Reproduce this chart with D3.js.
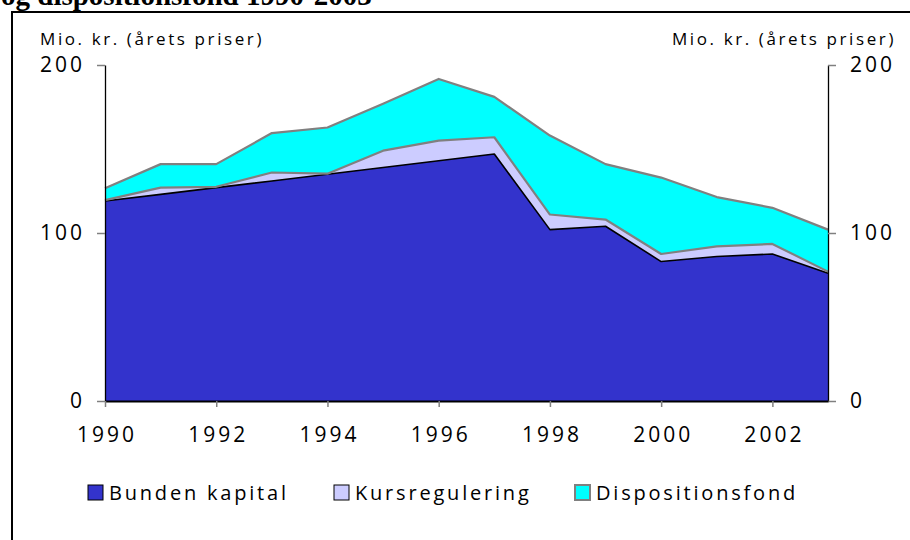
<!DOCTYPE html>
<html>
<head>
<meta charset="utf-8">
<script src="https://cdn.jsdelivr.net/npm/d3@7"></script>
<style>
  body { margin: 0; background: #fff; }
  svg { display: block; }
  text { font-family: "Open Sans", sans-serif; fill: #000; }
</style>
</head>
<body>
<div id="chart"></div>
<script>
// stacked area: bunden kapital + kursregulering + dispositionsfond, mio. kr.
const years = [1990, 1991, 1992, 1993, 1994, 1995, 1996, 1997, 1998, 1999, 2000, 2001, 2002, 2003]
const bunden = [119, 123, 127, 131, 135, 139, 143, 147, 102, 104, 83, 86, 87.5, 76]
const kurs   = [0.6, 4, 0.5, 5, 0.3, 10, 12, 10, 9, 4, 4.5, 6, 6, 1]
const disp   = [7, 14, 13.5, 23.5, 27.5, 28, 36.7, 24, 47, 33, 45.5, 29.4, 21.5, 25]
const yTicks = [0, 100, 200]
const xTicks = [1990, 1992, 1994, 1996, 1998, 2000, 2002]
const seriesNames = ["Bunden kapital", "Kursregulering", "Dispositionsfond"]

const W = 910, H = 540
const margin = { top: 65, right: 82, bottom: 139, left: 105 }
const plotW = W - margin.left - margin.right
const plotH = H - margin.top - margin.bottom

const fills   = ["#3333cc", "#ccccff", "#00ffff"]
const strokes = ["#000000", "#808080", "#808080"]

const svg = d3.select("#chart").append("svg")
  .attr("width", W).attr("height", H)

// cut-off title line at the very top
svg.append("text")
  .attr("x", 1).attr("y", 5)
  .style("font-family", "'Liberation Serif', serif")
  .style("font-weight", "bold").style("font-size", "29px")
  .text("og dispositionsfond 1990-2003")

// frame (top and left edges visible)
svg.append("path")
  .attr("d", `M12,${H} L12,12 L${W},12`)
  .attr("fill", "none").attr("stroke", "#000").attr("stroke-width", 2)

const g = svg.append("g")
  .attr("transform", `translate(${margin.left},${margin.top})`)

const x = d3.scaleLinear().domain([1990, 2003]).range([0, plotW])
const y = d3.scaleLinear().domain([0, 200]).range([plotH, 0])

const table = years.map((yr, i) => ({ year: yr, b: bunden[i], k: kurs[i], d: disp[i] }))
const stack = d3.stack().keys(["b", "k", "d"])(table)

const area = d3.area()
  .x(d => x(d.data.year))
  .y0(d => y(d[0]))
  .y1(d => y(d[1]))

const topLine = d3.line()
  .x(d => x(d.data.year))
  .y(d => y(d[1]))

// draw from the top layer down so each edge line stays visible
stack.slice().reverse().forEach(s => {
  g.append("path").datum(s)
    .attr("d", area)
    .attr("fill", fills[s.index])
})
stack.forEach(s => {
  g.append("path").datum(s)
    .attr("d", topLine)
    .attr("fill", "none")
    .attr("stroke", strokes[s.index])
    .attr("stroke-width", s.index === 0 ? 1.6 : 2.2)
    .attr("stroke-linejoin", "round")
})

// axes
function styleAxis(sel) {
  sel.select(".domain").attr("stroke", "#000").attr("stroke-width", 1.3)
  sel.selectAll(".tick line").attr("stroke", "#808080").attr("stroke-width", 1.5)
  sel.selectAll(".tick text")
    .style("font-size", "21px").style("letter-spacing", "3px")
    .style("font-family", "'Open Sans', sans-serif")
}

const yLeft = g.append("g")
  .call(d3.axisLeft(y).tickValues(yTicks).tickSize(8).tickSizeOuter(0).tickPadding(12))
styleAxis(yLeft)

const yRight = g.append("g")
  .attr("transform", `translate(${plotW},0)`)
  .call(d3.axisRight(y).tickValues(yTicks).tickSize(8).tickSizeOuter(0).tickPadding(14))
styleAxis(yRight)

const xAxis = g.append("g")
  .attr("transform", `translate(0,${plotH})`)
  .call(d3.axisBottom(x).tickValues(xTicks).tickFormat(d3.format("d")).tickSize(6).tickSizeOuter(0).tickPadding(20))
styleAxis(xAxis)
xAxis.select(".domain").attr("stroke-width", 2)
xAxis.selectAll(".tick text").attr("dx", "1.5px")

// unit labels above each axis
svg.append("text")
  .attr("x", 40).attr("y", 45)
  .style("font-size", "17px").style("letter-spacing", "2.6px")
  .text("Mio. kr. (årets priser)")

svg.append("text")
  .attr("x", 896).attr("y", 45)
  .attr("text-anchor", "end")
  .style("font-size", "17px").style("letter-spacing", "2.6px")
  .text("Mio. kr. (årets priser)")

// legend
const legendX = [88, 334, 575]
const legend = svg.append("g").attr("transform", "translate(0,493)")
seriesNames.forEach((name, i) => {
  legend.append("rect")
    .attr("x", legendX[i]).attr("y", -8)
    .attr("width", 15).attr("height", 15)
    .attr("fill", fills[i])
    .attr("stroke", i === 2 ? "#808080" : "#000")
    .attr("stroke-width", i === 2 ? 2 : 1)
  legend.append("text")
    .attr("x", legendX[i] + 21).attr("y", 7)
    .style("font-size", "20px").style("letter-spacing", "2.8px")
    .text(name)
})
</script>
</body>
</html>
